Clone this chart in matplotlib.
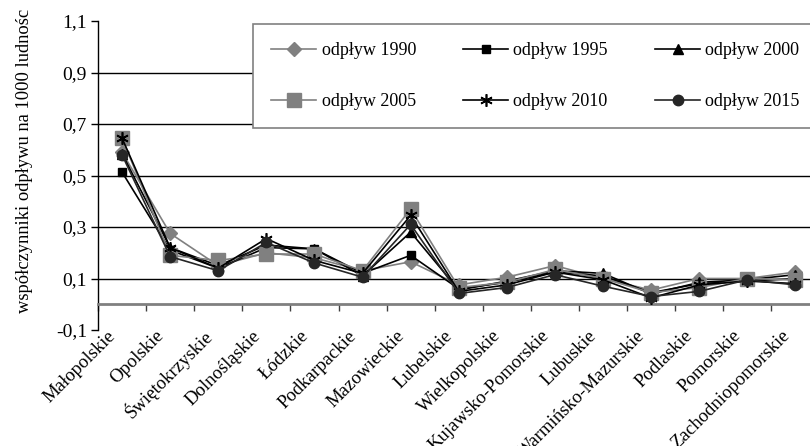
import numpy as np
import matplotlib
matplotlib.use("Agg")
import matplotlib.pyplot as plt
from matplotlib.ticker import FixedLocator, FuncFormatter
import matplotlib.transforms as mtransforms

plt.rcParams['font.family'] = ['Liberation Serif', 'DejaVu Serif']

categories = ["Małopolskie", "Opolskie", "Świętokrzyskie", "Dolnośląskie", "Łódzkie",
              "Podkarpackie", "Mazowieckie", "Lubelskie", "Wielkopolskie",
              "Kujawsko-Pomorskie", "Lubuskie", "Warmińsko-Mazurskie", "Podlaskie",
              "Pomorskie", "Zachodniopomorskie"]

odplyw_1990 = [0.590, 0.275, 0.150, 0.200, 0.180, 0.130, 0.165, 0.075, 0.105, 0.150, 0.100, 0.055, 0.100, 0.100, 0.125]
odplyw_1995 = [0.513, 0.210, 0.140, 0.220, 0.215, 0.120, 0.190, 0.060, 0.085, 0.125, 0.110, 0.045, 0.080, 0.090, 0.100]
odplyw_2000 = [0.585, 0.220, 0.150, 0.230, 0.215, 0.110, 0.280, 0.055, 0.090, 0.130, 0.120, 0.040, 0.085, 0.095, 0.115]
odplyw_2005 = [0.645, 0.190, 0.170, 0.195, 0.195, 0.130, 0.370, 0.065, 0.085, 0.135, 0.100, 0.045, 0.065, 0.100, 0.095]
odplyw_2010 = [0.645, 0.220, 0.140, 0.255, 0.170, 0.120, 0.345, 0.050, 0.075, 0.125, 0.095, 0.025, 0.075, 0.090, 0.080]
odplyw_2015 = [0.580, 0.185, 0.130, 0.240, 0.160, 0.105, 0.310, 0.042, 0.065, 0.115, 0.070, 0.030, 0.050, 0.095, 0.075]

series_labels = ["odpływ 1990", "odpływ 1995", "odpływ 2000",
                 "odpływ 2005", "odpływ 2010", "odpływ 2015"]
yticks = [-0.1, 0.1, 0.3, 0.5, 0.7, 0.9, 1.1]

fig = plt.figure(figsize=(8.10, 4.46), dpi=100)
ax = fig.add_axes([98/810, 116/446, 721.5/810, 309/446])

x = np.arange(len(categories))
styles = [
    dict(color='#808080', marker='D', ms=7.5, mfc='#808080', mec='#808080'),
    dict(color='#000000', marker='s', ms=6, mfc='#000000', mec='#000000'),
    dict(color='#000000', marker='^', ms=7.5, mfc='#000000', mec='#000000'),
    dict(color='#808080', marker='s', ms=10.5, mfc='#808080', mec='#808080'),
    dict(color='#000000', marker=(6, 2, 0), ms=9, mfc='#000000', mec='#000000', mew=1.2),
    dict(color='#262626', marker='o', ms=7.5, mfc='#262626', mec='#262626'),
]
data = [odplyw_1990, odplyw_1995, odplyw_2000, odplyw_2005, odplyw_2010, odplyw_2015]
handles = []
for vals, lab, st in zip(data, series_labels, styles):
    h, = ax.plot(x, vals, label=lab, lw=1.2, zorder=3, **st)
    handles.append(h)

ax.set_xlim(-0.5, len(categories) - 0.5)
ax.set_ylim(-0.1, 1.1)

# y axis
ax.yaxis.set_major_locator(FixedLocator(yticks))
ax.yaxis.set_major_formatter(FuncFormatter(lambda v, p: f"{v:.1f}".replace('.', ',')))
ax.tick_params(axis='y', which='major', length=5, width=1, direction='out',
               labelsize=14, pad=3, color='black')
ax.grid(axis='y', color='black', lw=1)
glines = ax.yaxis.get_gridlines()
glines[0].set_visible(False)
glines[-1].set_visible(False)
ax.set_axisbelow(True)

# x axis at zero
ax.spines['bottom'].set_position(('data', 0))
ax.spines['bottom'].set_color('#808080')
ax.spines['bottom'].set_linewidth(2)
ax.spines['top'].set_visible(False)
ax.spines['right'].set_visible(False)
ax.spines['left'].set_color('black')
ax.spines['left'].set_linewidth(1)

ax.set_xticks(x)
ax.set_xticks(np.arange(len(categories) + 1) - 0.5, minor=True)
ax.tick_params(axis='x', which='minor', length=5, width=1, direction='out', color='#404040')
ax.tick_params(axis='x', which='major', length=0, pad=21, labelsize=13.5)
ax.set_xticklabels(categories, rotation=45, ha='right', va='center', rotation_mode='anchor')
offset = mtransforms.ScaledTranslation(-9/100, 0, fig.dpi_scale_trans)
for lbl in ax.get_xticklabels():
    lbl.set_transform(lbl.get_transform() + offset)

fig.text(25/810, 1 - 161/446, "współczynniki odpływu na 1000 ludnośc", rotation=90,
         ha='center', va='center', fontsize=13.3)

order = [0, 3, 1, 4, 2, 5]
leg = ax.legend([handles[i] for i in order], [series_labels[i] for i in order],
                loc='upper left', bbox_to_anchor=(253/810, 1 - 24/446),
                bbox_transform=fig.transFigure, ncol=3, fontsize=13,
                frameon=True, fancybox=False, edgecolor='#808080', framealpha=1,
                handlelength=2.5, handletextpad=0.3, columnspacing=2.6,
                labelspacing=1.9, borderpad=1.0, borderaxespad=0)
leg.get_frame().set_linewidth(1.2)

fig.savefig("out.png", dpi=100)
